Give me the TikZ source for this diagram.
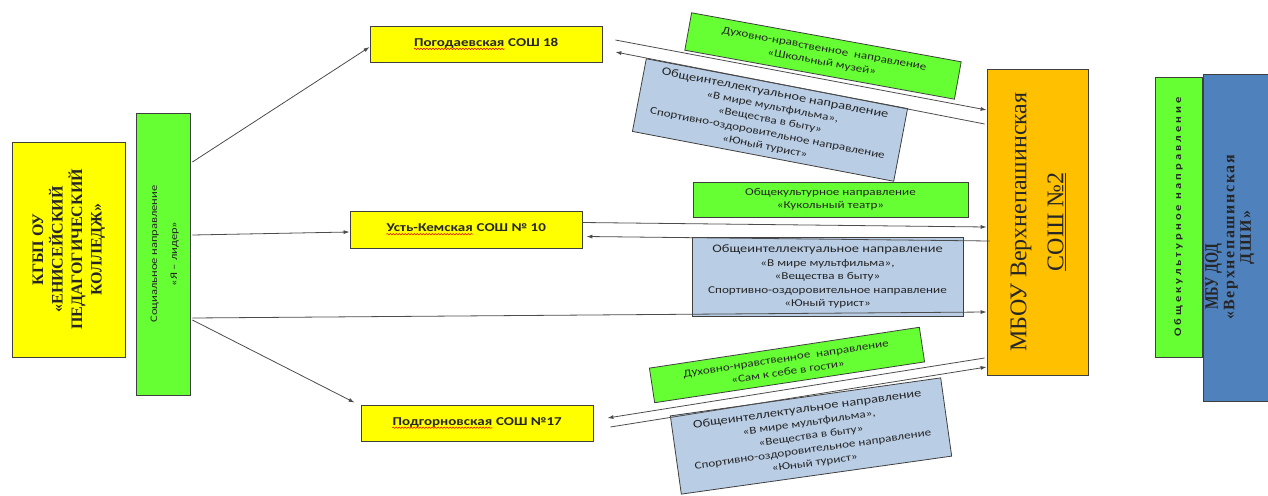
\documentclass[tikz,border=0pt]{standalone}
\usepackage{fontspec}
\setmainfont{Carlito}
\newfontfamily\widesans[FakeStretch=1.25]{Carlito}
\newfontfamily\spacedsans[FakeStretch=1.25, LetterSpace=30]{Carlito}
\newfontfamily\tallserif[FakeStretch=0.75]{Liberation Serif}
\newfontfamily\spacedserif[LetterSpace=10]{Liberation Serif}
\newfontfamily\mbouserif{Liberation Serif}
\usetikzlibrary{arrows.meta, calc, decorations.pathmorphing}

\definecolor{yelbox}{HTML}{FFFF00}
\definecolor{grnbox}{HTML}{66FF33}
\definecolor{orgbox}{HTML}{FFC000}
\definecolor{lblue}{HTML}{B9CDE5}
\definecolor{dblue}{HTML}{4F81BD}
\definecolor{edge}{HTML}{3F3F3F}

% red spell-check wave under a word
\newcommand{\redwave}[1]{\tikz[baseline=(word.base)]{\node[draw=none, fill=none, inner sep=0pt, minimum width=0pt, minimum height=0pt] (word) {#1};
    \draw[red!85!black, line width=0.5pt, decorate, decoration={snake, amplitude=0.7pt, segment length=3pt}]
        ([yshift=-2.5pt]word.base west) -- ([yshift=-2.5pt]word.base east);}}

\begin{document}
\begin{tikzpicture}[x=1pt, y=-1pt,
    box/.style={draw=edge, line width=0.8pt, inner sep=2pt, text=black!85},
    school/.style={box, fill=yelbox, minimum width=232pt, font=\widesans\bfseries\fontsize{12}{14}\selectfont},
    dirbox/.style={box, align=center, font=\widesans\fontsize{10.5}{13.5}\selectfont},
    link/.style={draw=black!70, line width=0.8pt, -{Latex[length=6pt,width=4pt]}}]
    \useasboundingbox (0,0) rectangle (1268,495);

    % Left column: college and social direction
    \node[box, fill=yelbox, minimum width=113pt, minimum height=215pt] (kgbpou) at (68.5,249.5)
        {\rotatebox{90}{\mbouserif\bfseries\fontsize{16}{19.5}\selectfont\begin{tabular}{@{}c@{}}КГБП ОУ\\«ЕНИСЕЙСКИЙ\\ПЕДАГОГИЧЕСКИЙ\\КОЛЛЕДЖ»\end{tabular}}};
    \node[box, fill=grnbox, minimum width=54pt, minimum height=282pt] (social) at (163,254)
        {\rotatebox{90}{\widesans\fontsize{10}{20}\selectfont\begin{tabular}{@{}c@{}}Социальное направление\\«Я – лидер»\end{tabular}}};

    % Schools
    \node[school, minimum height=36pt] (pog) at (486,44) {\redwave{Погодаевская} СОШ 18};
    \node[school, minimum height=37pt] (ust) at (466,229.5) {\redwave{Усть-Кемская} СОШ № 10};
    \node[school, minimum height=36pt] (podg) at (477,423) {\redwave{Подгорновская} СОШ №17};

    % Main school
    \node[box, fill=orgbox, minimum width=101pt, minimum height=306pt] (mbou) at (1037.5,222)
        {\rotatebox{90}{\mbouserif\fontsize{24}{37}\selectfont\begin{tabular}{@{}c@{}}МБОУ Верхнепашинская\\\underline{СОШ №2}\end{tabular}}};

    % Right column: art school
    \node[box, fill=dblue, minimum width=69pt, minimum height=327pt] (dshi) at (1237.5,237.5)
        {\rotatebox{90}{\bfseries\fontsize{16}{16.5}\selectfont\begin{tabular}{@{}c@{}}{\tallserif\fontsize{19}{16.5}\selectfont МБУ ДОД}\hspace*{78pt}\\{\spacedserif«Верхнепашинская}\\{\spacedserif ДШИ»}\end{tabular}}\hspace*{14pt}};
    \node[box, fill=grnbox, minimum width=47pt, minimum height=280pt] (cult) at (1178.5,217)
        {\rotatebox{90}{\spacedsans\bfseries\fontsize{10}{12}\selectfont Общекультурное направление}};

    % Directions between schools
    \node[dirbox, fill=grnbox, rotate=-10.3, minimum width=274pt, minimum height=38pt] (dn1) at (823,56)
        {Духовно-нравственное\ \ направление\\«Школьный музей»};
    \node[dirbox, fill=lblue, rotate=-10.8, minimum width=266pt, minimum height=74pt] (oi1) at (770,120)
        {{\fontsize{11.5}{13.5}\selectfont Общеинтеллектуальное направление}\\«В мире мультфильма»,\\«Вещества в быту»\\Спортивно-оздоровительное направление\\«Юный турист»};
    \node[dirbox, fill=grnbox, minimum width=275pt, minimum height=35pt] (ok) at (830.5,199.5)
        {Общекультурное направление\\«Кукольный театр»};
    \node[dirbox, fill=lblue, minimum width=271pt, minimum height=79pt] (oi2) at (827.5,276.5)
        {{\fontsize{11.5}{13.5}\selectfont Общеинтеллектуальное направление}\\«В мире мультфильма»,\\«Вещества в быту»\\Спортивно-оздоровительное направление\\«Юный турист»};
    \node[dirbox, fill=grnbox, rotate=8.6, minimum width=273pt, minimum height=35pt] (dn2) at (787,365)
        {Духовно-нравственное\ \ направление\\«Сам к себе в гости»};
    \node[dirbox, fill=lblue, rotate=8, minimum width=273pt, minimum height=79pt] (oi3) at (811,436)
        {{\fontsize{11.5}{13.5}\selectfont Общеинтеллектуальное направление}\\«В мире мультфильма»,\\«Вещества в быту»\\Спортивно-оздоровительное направление\\«Юный турист»};

    % Links from the social direction
    \draw[link] ([xshift=2pt,yshift=92pt]social.east) -- ([yshift=-3pt]pog.west);
    \draw[link] ([xshift=2pt,yshift=19pt]social.east) -- ([yshift=-2.5pt]ust.west);
    \draw[link] ([xshift=2pt,yshift=-66pt]social.east) -- ([xshift=-6pt,yshift=2pt]podg.north west);
    \draw[link] ([xshift=2pt,yshift=-64pt]social.east) -- ([yshift=-90pt]mbou.west);

    % Links between schools and MBOU
    \draw[link] ([xshift=13pt,yshift=4pt]pog.east) -- ([yshift=112pt]mbou.west);
    \draw[link] ([xshift=-2pt,yshift=98pt]mbou.west) -- ([xshift=13pt,yshift=-8pt]pog.east);
    \draw[link] ([yshift=7pt]ust.east) -- ([yshift=-5pt]mbou.west);
    \draw[link] ([xshift=3pt,yshift=-19pt]mbou.west) -- ([xshift=4pt,yshift=-7pt]ust.east);
    \draw[link] ([xshift=-2pt,yshift=-136pt]mbou.west) -- ([xshift=14pt,yshift=5pt]podg.east);
    \draw[link] ([xshift=17pt,yshift=-4pt]podg.east) -- ([yshift=-145pt]mbou.west);
\end{tikzpicture}
\end{document}
